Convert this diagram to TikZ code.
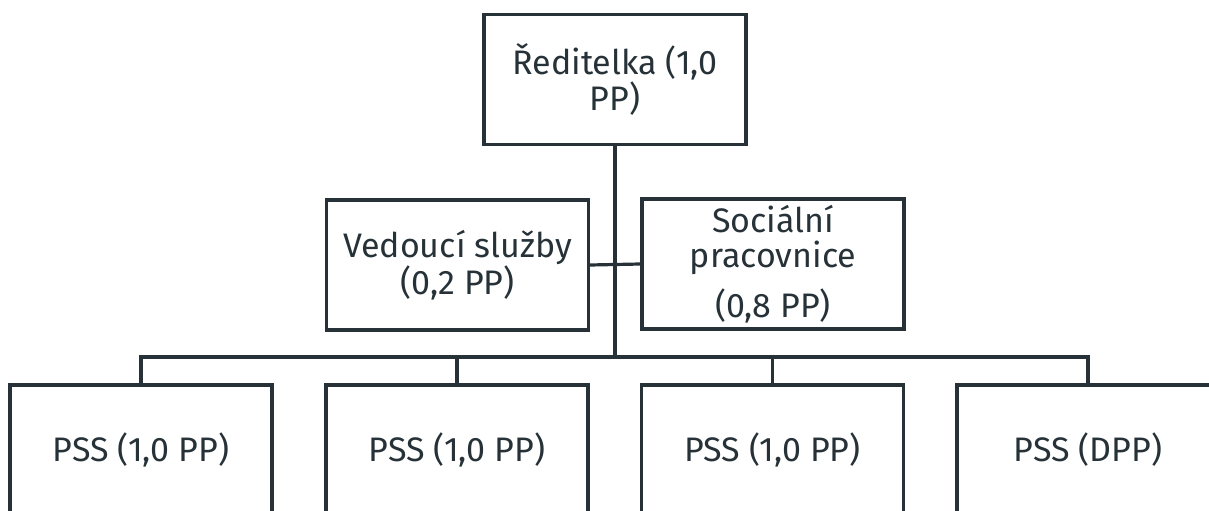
\documentclass[tikz,border=0pt]{standalone}
\usepackage{fontspec}
\setmainfont{Fira Sans}
\definecolor{orgline}{HTML}{263238}

\begin{document}
\begin{tikzpicture}[x=1bp,y=-1bp,
  box/.style={draw=orgline,line width=3.2bp,rectangle,minimum width=262bp,minimum height=130bp,
    align=center,text=orgline,inner sep=0pt,font=\fontsize{34bp}{35.5bp}\selectfont},
  link/.style={draw=orgline,line width=3.2bp}]
 \useasboundingbox (0,0) rectangle (1209,511);

 \node[box] (dir) at (615,79.5) {Ředitelka (1,0\\PP)};
 \node[box] (ved) at (457.5,265) {Vedoucí služby\\(0,2 PP)};
 \node[box] (soc) at (773,264) {Sociální\\pracovnice\\[13bp](0,8 PP)};

 \node[box] (pss1) at (141,450) {PSS (1,0 PP)};
 \node[box] (pss2) at (457,450) {PSS (1,0 PP)};
 \node[box] (pss3) at (772.5,450) {PSS (1,0 PP)};
 \node[box] (pss4) at (1088,450) {PSS (DPP)};

 \coordinate (bus) at (615,357);

 \draw[link] (dir.south) -- (bus);
 \draw[link] (ved.east) -- (soc.west);
 \draw[link] (pss1.north) |- (bus) -| (pss4.north);
 \foreach \n in {pss2,pss3}
   \draw[link] (\n.north) -- (\n.north |- bus);
\end{tikzpicture}
\end{document}
